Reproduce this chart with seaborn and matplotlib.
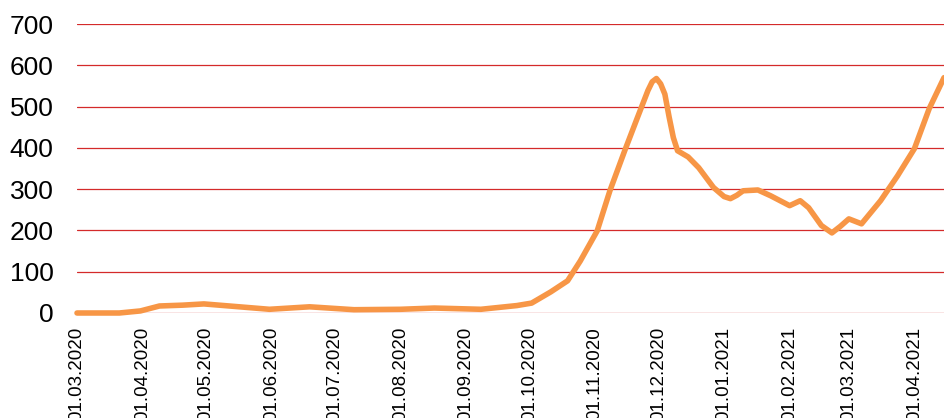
import pandas as pd
import seaborn as sns
import matplotlib.pyplot as plt
import matplotlib.dates as mdates

# values
dates = ['2020-03-01', '2020-03-21', '2020-03-31', '2020-04-09', '2020-04-20',
         '2020-04-30', '2020-05-12', '2020-05-31', '2020-06-19', '2020-07-10',
         '2020-08-01', '2020-08-17', '2020-09-08', '2020-09-25', '2020-10-02',
         '2020-10-11', '2020-10-19', '2020-10-25', '2020-11-02', '2020-11-08',
         '2020-11-15', '2020-11-21', '2020-11-26', '2020-11-28', '2020-11-30',
         '2020-12-02', '2020-12-04', '2020-12-06', '2020-12-08', '2020-12-10',
         '2020-12-15', '2020-12-20', '2020-12-27', '2021-01-01', '2021-01-04',
         '2021-01-07', '2021-01-10', '2021-01-17', '2021-01-23', '2021-02-01',
         '2021-02-06', '2021-02-10', '2021-02-16', '2021-02-21', '2021-02-25',
         '2021-03-01', '2021-03-07', '2021-03-16', '2021-03-24', '2021-04-01',
         '2021-04-08', '2021-04-15']
values = [0, 0, 5, 17, 19,
          22, 17, 9, 15, 8,
          9, 12, 9, 18, 24,
          51, 78, 126, 199, 296,
          393, 473, 539, 560, 568,
          555, 530, 475, 425, 393,
          378, 352, 304, 282, 277,
          285, 296, 298, 284, 260,
          272, 255, 212, 194, 210,
          228, 216, 272, 332, 398,
          495, 570]
month_ticks = pd.date_range('2020-03-01', '2021-04-01', freq='MS')
y_ticks = [0, 100, 200, 300, 400, 500, 600, 700]

df = pd.DataFrame({'date': pd.to_datetime(dates), 'value': values})

sns.set_style('white')
plt.rcParams['font.family'] = ['Liberation Sans', 'DejaVu Sans']

fig = plt.figure(figsize=(9.44, 4.18), dpi=100)
ax = fig.add_axes([77 / 944, 1 - 313 / 418, 1 - 77 / 944, (313 - 24) / 418])

for v in y_ticks:
    ax.axhline(v, color='#d42a2a', lw=0.9, zorder=1)

sns.lineplot(data=df, x='date', y='value', ax=ax, color='#f79646', lw=4,
             zorder=3, clip_on=False)
ax.lines[-1].set_solid_joinstyle('round')

ax.set_xlim(pd.Timestamp('2020-03-01'), pd.Timestamp('2021-04-15'))
ax.set_ylim(0, 700)
ax.set_yticks(y_ticks)
ax.set_xticks(month_ticks)
ax.xaxis.set_major_formatter(mdates.DateFormatter('%d.%m.%Y'))
ax.tick_params(axis='x', labelsize=13.5, rotation=90, length=0, pad=10,
               labelcolor='black')
ax.tick_params(axis='y', labelsize=19, length=0, pad=17, labelcolor='black')
for lbl in ax.get_xticklabels():
    lbl.set_va('top')
    lbl.set_ha('center')
ax.set_xlabel('')
ax.set_ylabel('')
sns.despine(ax=ax, left=True, bottom=True)

fig.savefig('out.png', dpi=100)
